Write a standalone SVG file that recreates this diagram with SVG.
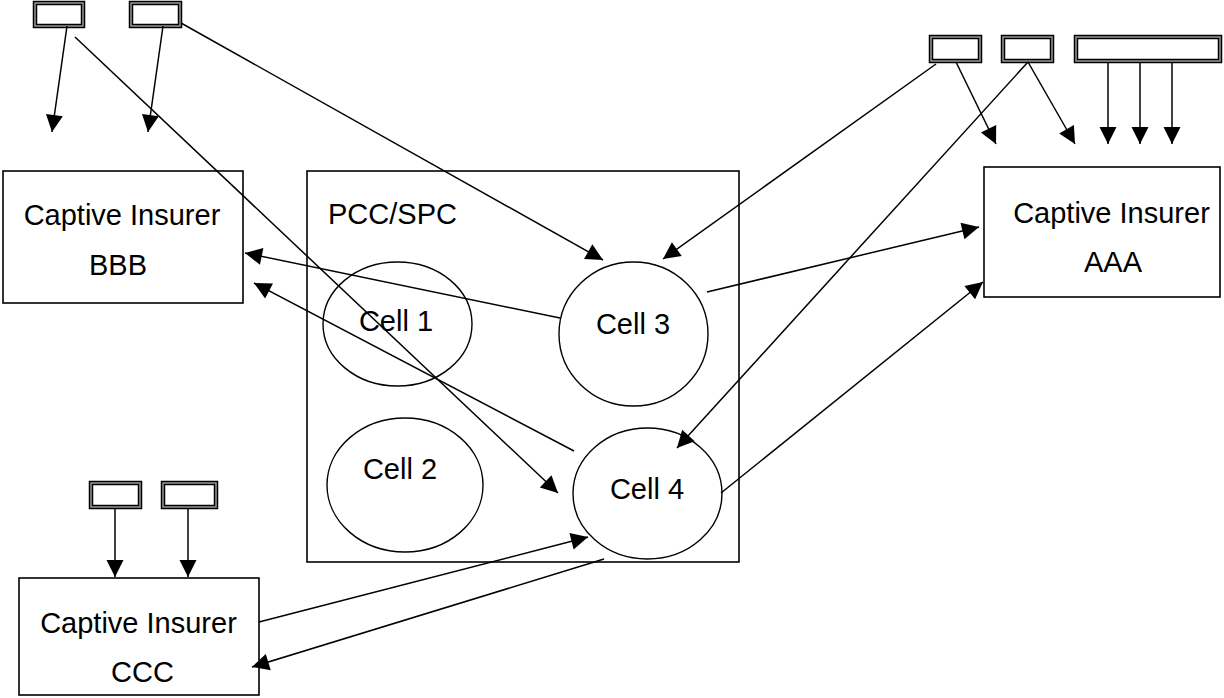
<svg xmlns="http://www.w3.org/2000/svg" width="1224" height="698" viewBox="0 0 1224 698">
<style>
.box{fill:#fff;stroke:#000;stroke-width:1.6}
.cell{fill:none;stroke:#000;stroke-width:1.4}
.sb1{fill:#fff;stroke:#000;stroke-width:4.5}
.sb2{fill:none;stroke:#999;stroke-width:1.5}
.t{font-family:"Liberation Sans",Arial,sans-serif;font-size:29px;fill:#000}
.c{text-anchor:middle}
.ln{stroke:#000;stroke-width:1.5;fill:none}
.ar{marker-end:url(#ah)}
</style>
<defs>
<marker id="ah" markerUnits="userSpaceOnUse" markerWidth="20" markerHeight="20" refX="17" refY="8.5" orient="auto" overflow="visible">
<path d="M0,0 L17,8.5 L0,17 z" fill="#000"/>
</marker>
</defs>
<rect width="1224" height="698" fill="#fff"/>

<g id="pcc">
<rect class="box" x="307" y="171" width="432" height="391"/>
<text class="t" x="328" y="224">PCC/SPC</text>
</g>
<g id="cell1">
<ellipse class="cell" cx="397.5" cy="324" rx="74.5" ry="62"/>
<text class="t c" x="396" y="331">Cell 1</text>
</g>
<g id="cell2">
<ellipse class="cell" cx="405" cy="485" rx="78" ry="67"/>
<text class="t c" x="400" y="479">Cell 2</text>
</g>
<g id="cell3">
<ellipse class="cell" cx="633.5" cy="334" rx="74.5" ry="72"/>
<text class="t c" x="633" y="334">Cell 3</text>
</g>
<g id="cell4">
<ellipse class="cell" cx="647.5" cy="493.5" rx="74.5" ry="65.5"/>
<text class="t c" x="647" y="499">Cell 4</text>
</g>

<g id="bbb">
<rect class="box" x="3" y="171" width="240" height="132"/>
<text class="t c" x="122" y="225">Captive Insurer</text>
<text class="t c" x="118" y="275">BBB</text>
</g>
<g id="aaa">
<rect class="box" x="984" y="167" width="236" height="130"/>
<text class="t c" x="1111.5" y="223">Captive Insurer</text>
<text class="t c" x="1113" y="272">AAA</text>
</g>
<g id="ccc">
<rect class="box" x="19" y="578" width="240" height="117"/>
<text class="t c" x="138.5" y="633">Captive Insurer</text>
<text class="t c" x="142.5" y="682">CCC</text>
</g>

<g id="sources">
<g id="src-tl1"><rect class="sb1" x="35" y="3" width="48" height="23"/><rect class="sb2" x="35" y="3" width="48" height="23"/></g>
<g id="src-tl2"><rect class="sb1" x="131" y="3" width="49" height="23"/><rect class="sb2" x="131" y="3" width="49" height="23"/></g>
<g id="src-tr1"><rect class="sb1" x="931" y="37" width="49" height="24"/><rect class="sb2" x="931" y="37" width="49" height="24"/></g>
<g id="src-tr2"><rect class="sb1" x="1003" y="37" width="49" height="24"/><rect class="sb2" x="1003" y="37" width="49" height="24"/></g>
<g id="src-tr3"><rect class="sb1" x="1076" y="37" width="144" height="24"/><rect class="sb2" x="1076" y="37" width="144" height="24"/></g>
<g id="src-bl1"><rect class="sb1" x="91" y="483" width="49" height="24"/><rect class="sb2" x="91" y="483" width="49" height="24"/></g>
<g id="src-bl2"><rect class="sb1" x="163" y="483" width="53" height="24"/><rect class="sb2" x="163" y="483" width="53" height="24"/></g>
</g>

<g id="connectors">
<line class="ln ar" x1="67" y1="26" x2="52" y2="132"/>
<line class="ln ar" x1="163" y1="26" x2="148" y2="132"/>
<line class="ln ar" x1="75" y1="37" x2="558" y2="493"/>
<line class="ln ar" x1="181" y1="23" x2="603" y2="260"/>
<line class="ln ar" x1="936" y1="64" x2="663" y2="259"/>
<line class="ln ar" x1="956" y1="62" x2="996" y2="144"/>
<line class="ln ar" x1="1028" y1="62" x2="1075" y2="144"/>
<line class="ln ar" x1="1028" y1="62" x2="677" y2="448"/>
<line class="ln ar" x1="1108" y1="62" x2="1108" y2="144"/>
<line class="ln ar" x1="1140" y1="62" x2="1140" y2="144"/>
<line class="ln ar" x1="1172" y1="62" x2="1172" y2="144"/>
<line class="ln ar" x1="707" y1="292" x2="979" y2="227"/>
<line class="ln ar" x1="721" y1="493" x2="983" y2="282"/>
<line class="ln ar" x1="560" y1="318" x2="245" y2="253"/>
<line class="ln ar" x1="574" y1="451" x2="254" y2="283"/>
<line class="ln ar" x1="259" y1="622" x2="588" y2="537"/>
<line class="ln ar" x1="604" y1="559" x2="252" y2="667"/>
<line class="ln ar" x1="115" y1="508" x2="115" y2="577"/>
<line class="ln ar" x1="188" y1="508" x2="188" y2="577"/>
</g>
</svg>
